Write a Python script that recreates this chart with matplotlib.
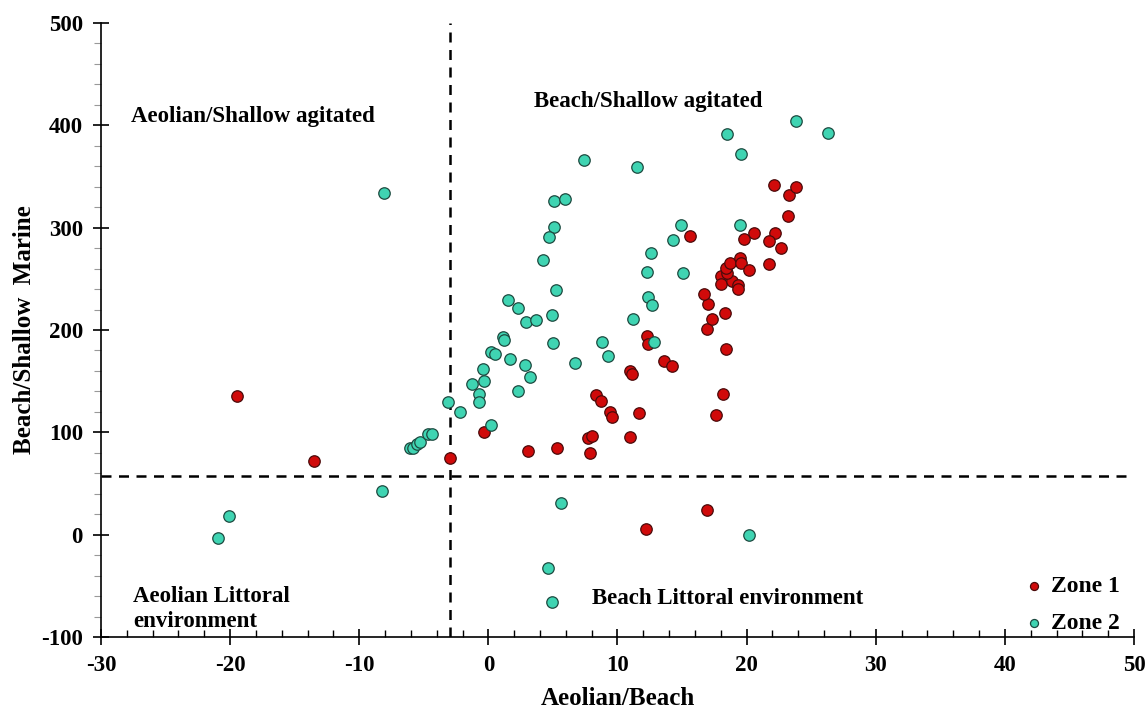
import numpy as np
import matplotlib
matplotlib.use("Agg")
import matplotlib.pyplot as plt
from matplotlib.ticker import MultipleLocator

# Zone 1 (rojo)
z1_x = [-19.5, -13.5, 12.2, 16.9, -3.0, -0.3, 7.7, 8.0, 7.9, 3.1, 5.3,
        8.3, 8.7, 9.4, 9.6, 11.7, 11.0, 17.6, 18.2, 11.0, 11.1, 13.6, 14.2,
        12.3, 12.4, 18.4, 16.9, 17.3, 18.3, 17.0, 16.7, 15.6, 18.0, 18.0,
        18.9, 19.3, 19.3, 18.5, 18.4, 18.7, 19.5, 19.6, 20.2, 21.7, 19.8,
        20.6, 22.2, 21.7, 22.7, 23.2, 23.3, 22.1, 23.8]
z1_y = [136, 72, 5.5, 24, 75, 100, 95, 97, 80, 82, 85,
        137, 131, 120, 115, 119, 96, 117, 138, 160, 157, 170, 165,
        194, 186, 181, 201, 211, 217, 225, 235, 292, 253, 245,
        248, 244, 240, 256, 261, 265, 270, 265, 259, 264, 289,
        295, 295, 287, 280, 311, 332, 342, 340]

# Zone 2 (turquesa)
z2_x = [-8.1, -8.2, -20.1, -20.9, 4.6, 4.9, 5.6, 20.2, 7.4, 11.5, 18.5,
        19.6, 23.8, 26.3, 5.1, 5.9, 5.1, 4.7, 4.2, 5.2, 1.5, 2.3, 4.9, 2.9,
        3.7, 1.1, 1.2, 5.0, 8.8, 9.3, 0.2, 0.5, 1.7, 2.8, 3.2, 6.7, -0.4,
        -0.3, -1.3, -0.7, -0.7, 2.3, -3.1, -2.2, 0.2, -6.1, -5.8, -5.5,
        -5.3, -4.7, -4.4, 14.9, 19.5, 14.3, 12.6, 12.3, 15.1, 12.4, 12.7,
        11.2, 12.8]
z2_y = [334, 43, 18, -3, -32, -66, 31, 0, 366, 359, 391,
        372, 404, 392, 326, 328, 301, 291, 268, 239, 229, 221, 215, 208,
        210, 193, 190, 187, 188, 175, 179, 177, 172, 166, 154, 168, 162,
        150, 147, 138, 130, 140, 130, 120, 107, 85, 85, 89,
        91, 98, 98, 303, 303, 288, 275, 257, 256, 232, 224,
        211, 188]

x_cut = -3
y_cut = 57

plt.rcParams["font.family"] = ["Liberation Serif", "DejaVu Serif"]
plt.rcParams["font.weight"] = "bold"
plt.rcParams["axes.unicode_minus"] = False

fig = plt.figure(figsize=(11.45, 7.10), dpi=100)
ax = fig.add_axes([0.0882, 0.1024, 0.9022, 0.8656])

ax.scatter(z1_x, z1_y, s=68, c="#d00a0a", edgecolors="#4a0a0a", linewidths=0.9,
           zorder=3, label="Zone 1")
ax.scatter(z2_x, z2_y, s=68, c="#3fd4b2", edgecolors="#1d4a40", linewidths=0.9,
           zorder=3, label="Zone 2")

ax.axvline(x_cut, color="black", ls=(0, (4, 3)), lw=1.8, zorder=2)
ax.axhline(y_cut, color="black", ls=(0, (4, 3)), lw=1.8, zorder=2)

ax.set_xlim(-30, 50)
ax.set_ylim(-100, 500)
ax.xaxis.set_major_locator(MultipleLocator(10))
ax.xaxis.set_minor_locator(MultipleLocator(2))
ax.yaxis.set_major_locator(MultipleLocator(100))
ax.yaxis.set_minor_locator(MultipleLocator(20))
for s in ("top", "right"):
    ax.spines[s].set_visible(False)
for s in ("left", "bottom"):
    ax.spines[s].set_linewidth(1.2)
ax.tick_params(which="major", direction="inout", length=12, width=1.2,
               labelsize=16.5, pad=7)
ax.tick_params(axis="x", which="minor", direction="in", length=5, width=1)
ax.tick_params(axis="y", which="minor", direction="out", length=5, width=0.8,
               color="#999999")
for lb in ax.get_xticklabels() + ax.get_yticklabels():
    lb.set_fontweight("bold")

ax.set_xlabel("Aeolian/Beach", fontsize=18, fontweight="bold", labelpad=8)
ax.set_ylabel("Beach/Shallow  Marine", fontsize=18, fontweight="bold", labelpad=4)

ax.text(-27.7, 408, "Aeolian/Shallow agitated", fontsize=16.5, fontweight="bold",
        va="center")
ax.text(3.5, 423, "Beach/Shallow agitated", fontsize=16.5, fontweight="bold",
        va="center")
ax.text(-27.5, -72, "Aeolian Littoral\nenvironment", fontsize=16.5,
        fontweight="bold", va="center", linespacing=1.25)
ax.text(8.0, -62, "Beach Littoral environment", fontsize=16.5, fontweight="bold",
        va="center")

ax.legend(loc="lower right", bbox_to_anchor=(1.0, -0.018), frameon=False,
          markerscale=0.7, handlelength=1.2, handletextpad=0.1,
          labelspacing=0.65, borderaxespad=0.2,
          prop={"weight": "bold", "size": 17})

fig.savefig("out.png", dpi=100)
